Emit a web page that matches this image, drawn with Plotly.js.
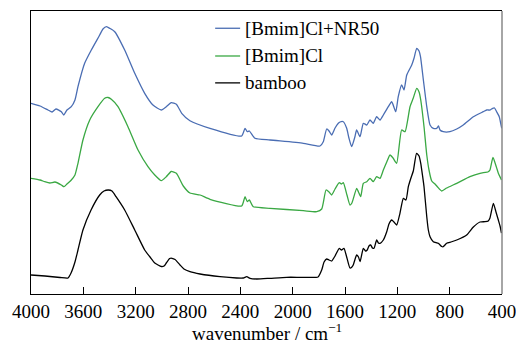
<!DOCTYPE html>
<html>
<head>
<meta charset="utf-8">
<script src="https://cdn.plot.ly/plotly-3.0.1.min.js"></script>
<style>
html,body{margin:0;padding:0;background:#fff;font-family:'Liberation Serif',serif;}
#chart{width:516px;height:341px;}
#chart text, #chart .xtick text, #chart .annotation-text {font-family:'Liberation Serif', serif !important;}
</style>
</head>
<body>
<div id="chart"></div>
<script>
// Wavenumber (cm^-1) and relative intensity (arbitrary units, offset stacked)
var bambooWn = [4000,3893,3778,3717,3694,3664,3641,3603,3541,3475,3442,3409,3381,3350,3284,3207,3131,3090,3054,3004,2983,2966,2940,2922,2899,2861,2831,2785,2708,2555,2428,2377,2351,2326,2275,2173,2046,1919,1806,1778,1760,1740,1722,1702,1676,1644,1627,1608,1585,1562,1547,1537,1511,1497,1485,1460,1443,1430,1417,1404,1390,1378,1358,1344,1332,1307,1281,1264,1243,1226,1205,1180,1154,1134,1116,1096,1078,1053,1034,1021,1008,996,975,963,950,925,887,861,849,823,790,746,670,619,568,530,505,492,466,446,428,415,404];
var bambooI  = [19,18,16.5,16,21,32,44,64,84,99,103,104,103,97.3,84,64,44,37,31,27.5,28,31,35.5,35.7,34.5,29,25,22.3,20,17.3,16,16,17.3,15.7,15,15.7,16.7,16.7,17,24,32,35,34,33,38,45.7,44,45.7,36,26,27,29,39,37,32.3,45.7,43,44,48,49,46,45.7,54,51,50.7,54,62.3,70,74,72,69,80.7,95.7,94,107.3,116,123,140.7,138,130.7,119,107.3,77.3,64,57.3,52.3,50.7,47.5,47.3,50.7,52,54,59,67,72,72.3,73,76,90.7,82,74,68,61];

var bmimWn = [4000,3931,3895,3855,3817,3768,3748,3725,3692,3664,3641,3603,3551,3488,3437,3411,3386,3335,3259,3182,3106,3054,3004,2966,2928,2889,2836,2785,2708,2632,2390,2364,2347,2331,2301,2173,1919,1816,1778,1745,1722,1702,1676,1644,1627,1613,1585,1562,1547,1511,1497,1480,1460,1434,1409,1384,1358,1332,1307,1281,1256,1233,1205,1167,1141,1103,1078,1052,1034,1021,996,975,958,937,912,894,861,823,746,645,568,505,492,469,443,428,410,404];
var bmimI  = [115.7,114,112.3,111,112,109,107.3,110,114,119,130.7,154,174,187.3,195.7,196.5,194.7,187.3,167.3,144,127.3,119,113.3,117.3,122.5,120.7,108,101,99,94.7,88,97.3,92.3,94,87.3,85.7,83.3,82.3,85,104,102,99,105,111.3,110,111.3,99,89,91,105.7,102,97.3,110.7,112.3,115.7,112.3,117.3,115.7,124,132,139,136,130.7,164,162.3,187.3,196,205.7,202,194,167.3,139,124,113,110,107.3,103,106,110.7,117.3,120.7,122.3,124,136.5,127,120.7,115.7,114];

var nrWn = [4000,3931,3870,3839,3809,3768,3750,3725,3692,3664,3641,3590,3539,3475,3450,3423,3396,3360,3284,3207,3131,3068,3004,2966,2928,2889,2848,2785,2632,2390,2364,2347,2331,2288,2173,1919,1791,1766,1740,1722,1702,1676,1651,1638,1613,1587,1570,1549,1524,1511,1485,1460,1434,1409,1384,1358,1332,1307,1269,1243,1212,1193,1167,1149,1128,1090,1072,1052,1034,1023,1001,975,950,925,899,885,874,849,798,746,696,619,543,517,492,471,457,441,421,412,402];
var nrI  = [190.7,188,184,182,185,182.3,179,184,187.3,194,207.3,230.7,244,259,265,267.3,265.5,262.3,244,220.7,200.7,189,184,187.3,191.3,189.7,180.7,173.3,165.7,158,165.7,162.3,163,155.7,154,150.7,148,152.3,165,163,159,166,170.7,172,172.3,165.7,156,147.3,157.3,164,157.3,170.7,169,174,170.7,177.3,174,179,187.3,192.3,182.3,197.3,209,204,219,229,236,245.7,243,237.3,214,187.3,169,165.7,165.7,168,164,162.3,162.3,165,169,177.3,182.3,184,184,185.7,186,182.3,177.3,172,165.7];

var names = ['[Bmim]Cl+NR50', '[Bmim]Cl', 'bamboo'];
var tickVals = [4000,3600,3200,2800,2400,2000,1600,1200,800,400];
var xTitle = 'wavenumber / cm<sup>−1</sup>';

var FONT = 'Liberation Serif';
var colors = ['#4a6db3', '#3aa843', '#000000'];
var series = [[nrWn, nrI], [bmimWn, bmimI], [bambooWn, bambooI]];
var traces = series.map(function(s, i){
  return {type: 'scatter', mode: 'lines', x: s[0], y: s[1], name: names[i], showlegend: false,
          line: {color: colors[i], width: 1.3, shape: 'spline', smoothing: 0.5}};
});

// legend drawn as paper-positioned samples and labels
var legendRows = [0.939, 0.841, 0.746];
var shapes = [
  {type: 'line', xref: 'paper', yref: 'paper', x0: 1, x1: 1, y0: 0, y1: 1, line: {color: '#888', width: 1.5}}
];
var annotations = [
  {xref: 'paper', yref: 'paper', x: 0.5, y: -0.134, xanchor: 'center', yanchor: 'middle', showarrow: false,
   text: xTitle, font: {family: FONT, size: 19, color: '#000'}}
];
names.forEach(function(n, i){
  shapes.push({type: 'line', xref: 'paper', yref: 'paper', x0: 0.391, x1: 0.444, y0: legendRows[i], y1: legendRows[i],
               line: {color: colors[i], width: 1.3}});
  annotations.push({xref: 'paper', yref: 'paper', x: 0.450, y: legendRows[i], xanchor: 'left', yanchor: 'middle',
                    showarrow: false, text: n, font: {family: FONT, size: 19, color: '#000'}});
});

var layout = {
  width: 516, height: 341,
  margin: {l: 31, r: 14, t: 11, b: 47},
  paper_bgcolor: '#fff', plot_bgcolor: '#fff',
  font: {family: FONT, size: 19, color: '#000'},
  showlegend: false,
  xaxis: {
    range: [4000, 400], tickvals: tickVals, ticktext: tickVals.map(String),
    ticks: 'inside', ticklen: 7, tickcolor: '#000', tickwidth: 1,
    showline: true, linecolor: '#000', linewidth: 1, mirror: true,
    showgrid: false, zeroline: false, ticklabeloverflow: 'allow',
    tickfont: {family: FONT, size: 19, color: '#000'}
  },
  yaxis: {
    range: [0, 283], showticklabels: false, ticks: '',
    showline: true, linecolor: '#000', linewidth: 1, mirror: false,
    showgrid: false, zeroline: false
  },
  shapes: shapes,
  annotations: annotations
};
Plotly.newPlot('chart', traces, layout, {displayModeBar: false, staticPlot: true});
</script>
</body>
</html>
